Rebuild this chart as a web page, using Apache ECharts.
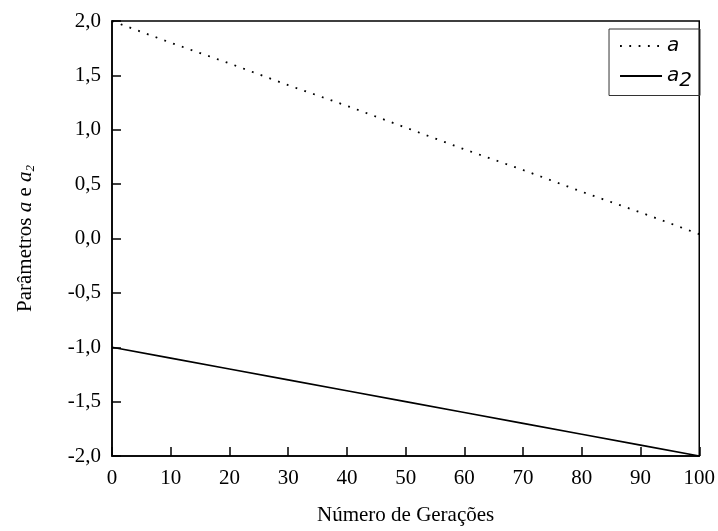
<!DOCTYPE html>
<html>
<head>
<meta charset="utf-8">
<script src="https://cdn.jsdelivr.net/npm/echarts@6/dist/echarts.min.js"></script>
<style>
  html, body { margin: 0; padding: 0; background: #fff; }
  #chart { width: 718px; height: 531px; }
</style>
</head>
<body>
<div id="chart"></div>
<script>
// gerações (eixo x)
const generations = [0, 10, 20, 30, 40, 50, 60, 70, 80, 90, 100]
// parâmetro a (pontilhado)
const aValues = [2.0, 1.80, 1.61, 1.41, 1.22, 1.02, 0.82, 0.63, 0.43, 0.24, 0.04]
// parâmetro a2 (contínuo)
const a2Values = [-1.0, -1.1, -1.2, -1.3, -1.4, -1.5, -1.6, -1.7, -1.8, -1.9, -2.0]
const yTicks = { min: -2, max: 2, step: 0.5 }
const xTicks = { min: 0, max: 100, step: 10 }

const serif = 'Liberation Serif'
const toPairs = vals => generations.map((g, i) => [g, vals[i]])

const chart = echarts.init(document.getElementById('chart'))

const option = {
  animation: false,
  backgroundColor: '#fff',
  color: ['#000', '#000'],
  grid: {
    left: 112,
    right: 15,
    top: 21,
    bottom: 70,
    show: true,
    borderColor: '#000',
    borderWidth: 1.5
  },
  legend: {
    orient: 'vertical',
    right: 18,
    top: 29,
    padding: [7, 8, 5, 10],
    itemGap: 10,
    itemWidth: 42,
    itemHeight: 16,
    borderColor: '#333',
    borderWidth: 1,
    borderRadius: 0,
    itemStyle: { opacity: 0 },
    data: ['a', 'a2'],
    formatter: name => (name === 'a2' ? '{it|a}{sub|2}' : '{it|a}'),
    textStyle: {
      rich: {
        it: { fontFamily: 'DejaVu Sans', fontStyle: 'italic', fontSize: 20, color: '#000' },
        sub: { fontFamily: 'DejaVu Sans', fontStyle: 'italic', fontSize: 20, color: '#000', verticalAlign: 'bottom', padding: [9, 0, 0, 0] }
      }
    }
  },
  xAxis: {
    type: 'value',
    min: xTicks.min,
    max: xTicks.max,
    interval: xTicks.step,
    name: 'Número de Gerações',
    nameLocation: 'middle',
    nameGap: 49,
    nameTextStyle: { fontFamily: serif, fontSize: 21, color: '#000' },
    axisLine: { onZero: false, lineStyle: { color: '#000', width: 1.5 } },
    axisTick: { inside: true, length: 9, lineStyle: { color: '#000', width: 1.5 } },
    axisLabel: { fontFamily: serif, fontSize: 21, color: '#000', margin: 12 },
    splitLine: { show: false }
  },
  yAxis: {
    type: 'value',
    min: yTicks.min,
    max: yTicks.max,
    interval: yTicks.step,
    name: '{n|Parâmetros }{it|a}{n| e }{it|a}{sub|2}',
    nameLocation: 'middle',
    nameGap: 75,
    nameRotate: 90,
    nameTextStyle: {
      rich: {
        n: { fontFamily: serif, fontSize: 21, color: '#000' },
        it: { fontFamily: serif, fontStyle: 'italic', fontSize: 21, color: '#000' },
        sub: { fontFamily: serif, fontStyle: 'italic', fontSize: 13, color: '#000', verticalAlign: 'bottom', padding: [10, 0, 0, 0] }
      }
    },
    axisLine: { onZero: false, lineStyle: { color: '#000', width: 1.5 } },
    axisTick: { inside: true, length: 9, lineStyle: { color: '#000', width: 1.5 } },
    axisLabel: {
      fontFamily: serif,
      fontSize: 21,
      color: '#000',
      margin: 11,
      formatter: v => v.toFixed(1).replace('.', ',')
    },
    splitLine: { show: false }
  },
  series: [
    {
      name: 'a',
      type: 'line',
      symbol: 'none',
      data: toPairs(aValues),
      lineStyle: { color: '#000', width: 1.8, type: [1.8, 7.5] }
    },
    {
      name: 'a2',
      type: 'line',
      symbol: 'none',
      data: toPairs(a2Values),
      lineStyle: { color: '#000', width: 1.6, type: 'solid' }
    }
  ]
}

chart.setOption(option)
</script>
</body>
</html>
